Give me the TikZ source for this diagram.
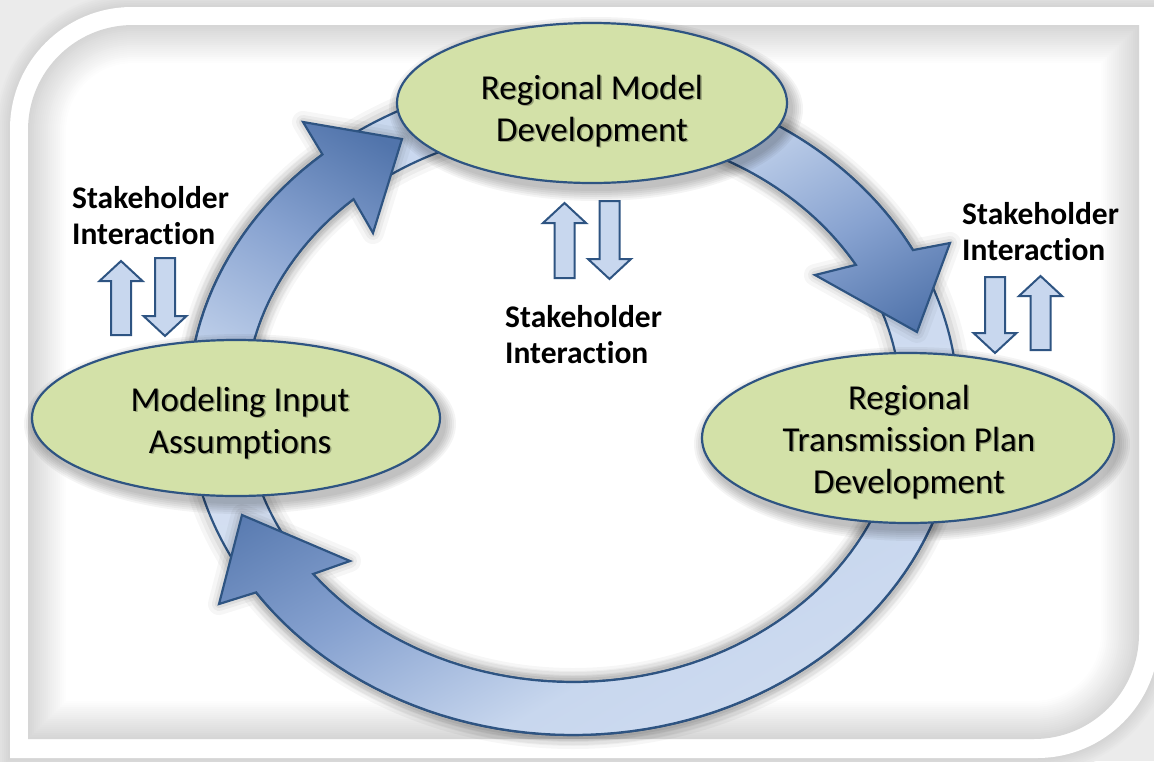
\documentclass[tikz,border=0pt]{standalone}
\usepackage{fontspec}
\setmainfont{Carlito}[Ligatures=NoCommon]
\usetikzlibrary{shapes.geometric}
\definecolor{ringfill}{HTML}{C8D7EE}
\definecolor{ringlight}{HTML}{D8E2F3}
\definecolor{headdark}{HTML}{5174AB}
\definecolor{headmid}{HTML}{87A2D0}
\definecolor{edgeblue}{HTML}{2E5482}
\definecolor{ellfill}{HTML}{D3E1A8}
\definecolor{bggray}{HTML}{D2D2D2}
\definecolor{innergray}{HTML}{D6D6D6}
\pgfdeclareverticalshading{fadethree}{100bp}{color(0bp)=(ringlight); color(42bp)=(ringfill); color(62bp)=(headmid); color(82bp)=(headdark); color(100bp)=(headdark)}
\pgfdeclareverticalshading{fadeone}{100bp}{color(0bp)=(ringfill); color(30bp)=(ringfill); color(58bp)=(headmid); color(80bp)=(headdark); color(100bp)=(headdark)}
\pgfdeclareverticalshading{fadetwo}{100bp}{color(0bp)=(headdark); color(20bp)=(headdark); color(42bp)=(headmid); color(70bp)=(ringfill); color(100bp)=(ringfill)}
\newcommand{\outerpath}[1]{({10-#1},{758+#1}) -- ({10-#1},129) arc[start angle=180,end angle=270,radius={122+#1}] -- ({1159+#1},{7-#1}) -- ({1159+#1},636) arc[start angle=0,end angle=90,radius={122+#1}] -- (1037,{758+#1}) -- cycle}
\newcommand{\innerpath}[1]{({28+#1},{739-#1}) -- ({28+#1},130) arc[start angle=180,end angle=270,radius={105-#1}] -- ({1139-#1},{25+#1}) -- ({1139-#1},634) arc[start angle=0,end angle=90,radius={105-#1}] -- (1034,{739-#1}) -- cycle}
\newcommand{\uparr}[3]{\draw[updn] ({#1-10},#3) -- ({#1-10},{#2+20}) -- ({#1-21.5},{#2+20}) -- (#1,#2) -- ({#1+21.5},{#2+20}) -- ({#1+10},{#2+20}) -- ({#1+10},#3) -- cycle;}
\newcommand{\dnarr}[3]{\draw[updn] ({#1-10},#2) -- ({#1-10},{#3-20}) -- ({#1-21.5},{#3-20}) -- (#1,#3) -- ({#1+21.5},{#3-20}) -- ({#1+10},{#3-20}) -- ({#1+10},#2) -- cycle;}
\newcommand{\arrA}{plot[domain=170:229.4, samples=30] ({573+385*cos(\x)},{405+330*sin(\x)})
    -- (303,122) -- (402,139) -- (373,233)
    -- plot[domain=228:170, samples=30] ({573+328*cos(\x)},{405+277*sin(\x)}) -- cycle}
\newcommand{\arrB}{plot[domain=285:332, samples=30] ({573+385*cos(\x)},{405+330*sin(\x)})
    -- (950,243) -- (917,332) -- (815,275)
    -- plot[domain=329.6:285, samples=30] ({573+328*cos(\x)},{405+277*sin(\x)}) -- cycle}
\newcommand{\arrC}{plot[domain=15:145.4, samples=60] ({573+385*cos(\x)},{405+330*sin(\x)})
    -- (219,604) -- (242,515) -- (350,561)
    -- plot[domain=142.4:15, samples=60] ({573+328*cos(\x)},{405+277*sin(\x)}) -- cycle}
\tikzset{
  arrowband/.style={draw=edgeblue, line width=2.2pt, line join=miter},
  ellbox/.style={ellipse, draw=edgeblue, line width=2.2pt, fill=ellfill, inner sep=0pt},
  elltext/.style={font=\fontsize{35}{42}\selectfont, align=center, text=black, inner sep=0pt},
  elltextshadow/.style={elltext, text=black, text opacity=0.28},
  stake/.style={font=\bfseries\fontsize{31.5}{36}\selectfont, align=left, anchor=west, inner sep=0pt, text=black},
  updn/.style={draw=edgeblue, fill=ringfill, line width=2pt, line join=miter},
  halo/.style={black, opacity=#1},
}
\begin{document}
\begin{tikzpicture}[x=1pt,y=-1pt]
\useasboundingbox (0,0) rectangle (1154,761);
% background and frame
\fill[white!55!bggray] (0,0) rectangle (1154,761);
\foreach \k in {16,14,...,2} {
  \pgfmathsetmacro\pc{55*\k/16}
  \fill[white!\pc!bggray] \outerpath{\k};
}
\fill[white] \outerpath{0};
\fill[innergray] \innerpath{0};
\foreach \i in {2,4,...,38} {
  \pgfmathsetmacro\pc{100*\i/38}
  \fill[white!\pc!innergray] \innerpath{\i};
}
% ring halo
\foreach \w/\o in {28/0.035,20/0.045,12/0.06} {
  \draw[halo=\o, line width=\w pt] (573,405) ellipse[x radius=385, y radius=330];
  \draw[halo=\o, line width=\w pt] (573,405) ellipse[x radius=328, y radius=277];
}
% ring
\shadedraw[arrowband, even odd rule, top color=ringfill, bottom color=ringlight]
  (573,405) ellipse[x radius=385, y radius=330]
  (573,405) ellipse[x radius=328, y radius=277];
% arrow halos
\foreach \w/\o in {22/0.035,14/0.045,8/0.06} {
  \draw[halo=\o, line width=\w pt, line join=round] \arrA;
  \draw[halo=\o, line width=\w pt, line join=round] \arrB;
  \draw[halo=\o, line width=\w pt, line join=round] \arrC;
}
% arrows
\shadedraw[arrowband, shading=fadeone, shading angle=-30] \arrA;
\shadedraw[arrowband, shading=fadetwo, shading angle=30] \arrB;
\shadedraw[arrowband, shading=fadethree, shading angle=30] \arrC;
% ellipse shadows
\foreach \k in {10,8,...,0} {
  \fill[halo=0.045] (596,109) ellipse[x radius={197+\k}, y radius={82+\k}];
  \fill[halo=0.045] (240,424) ellipse[x radius={206+\k}, y radius={80+\k}];
  \fill[halo=0.045] (912,444) ellipse[x radius={208+\k}, y radius={87+\k}];
}
% ellipses
\node[ellbox, minimum width=390pt, minimum height=160pt] (rmd) at (592,103) {};
\node[ellbox, minimum width=408pt, minimum height=156pt] (mia) at (236,418) {};
\node[ellbox, minimum width=412pt, minimum height=170pt] (rtp) at (908,438) {};
\node[elltextshadow] (srmd) at ([xshift=1.5pt,yshift=-9.5pt]rmd.center) {Regional Model\\Development};
\node[elltextshadow] (smia) at ([xshift=5.5pt,yshift=-6.5pt]mia.center) {Modeling Input\\Assumptions};
\node[elltextshadow] (srtp) at ([xshift=2.5pt,yshift=-5.5pt]rtp.center) {Regional\\Transmission Plan\\Development};
\node[elltext] (trmd) at ([yshift=-8pt]rmd.center) {Regional Model\\Development};
\node[elltext] (tmia) at ([xshift=4pt,yshift=-5pt]mia.center) {Modeling Input\\Assumptions};
\node[elltext] (trtp) at ([xshift=1pt,yshift=-4pt]rtp.center) {Regional\\Transmission Plan\\Development};
% stakeholder arrows
\uparr{121}{261}{335}
\dnarr{165}{258}{336}
\uparr{564.5}{203}{278}
\dnarr{609.5}{201}{279}
\dnarr{995}{277}{353}
\uparr{1040.5}{276}{350}
% stakeholder labels
\node[stake] (s1) at (72,216) {Stakeholder\\Interaction};
\node[stake] (s2) at (505,335) {Stakeholder\\Interaction};
\node[stake] (s3) at (962,232) {Stakeholder\\Interaction};
\end{tikzpicture}
\end{document}
